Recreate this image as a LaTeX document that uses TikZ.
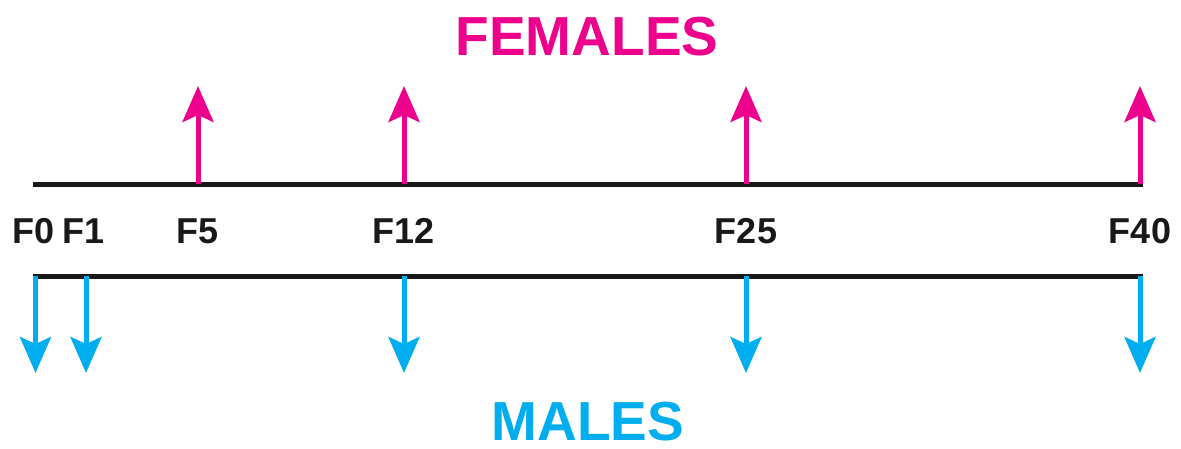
\documentclass[tikz,border=0pt]{standalone}
\usepackage{fontspec}
\setmainfont{Liberation Sans}
\usetikzlibrary{arrows.meta}
\definecolor{fem}{HTML}{EC008C}
\definecolor{mal}{HTML}{00AEEF}
\begin{document}
\begin{tikzpicture}[x=1pt,y=-1pt,
  axisline/.style={line width=5pt,black!90},
  femarrow/.style={line width=5pt,fem,-{Stealth[length=36pt,width=31pt,inset=7pt]}},
  malarrow/.style={line width=5pt,mal,-{Stealth[length=36pt,width=31pt,inset=7pt]}},
  gen/.style={font=\fontsize{36}{36}\selectfont\bfseries,text=black!90,anchor=base,inner sep=0pt},
  title/.style={font=\fontsize{55}{55}\selectfont\bfseries,anchor=base,inner sep=0pt,text depth=0pt}]
\useasboundingbox (0,0) rectangle (1181,448);
% lines
\coordinate (tl) at (33,184);
\coordinate (tr) at (1142.5,184);
\coordinate (bl) at (33,276);
\coordinate (br) at (1142.5,276);
\draw[axisline] (tl) -- (tr);
\draw[axisline] (bl) -- (br);
% labels
\node[gen] (f0) at (34,243) {F0};
\node[gen] (f1) at (84,243) {F1};
\node[gen] (f5) at (198,243) {F5};
\node[gen] (f12) at (404,243) {F12};
\node[gen] (f25) at (746,243) {F25};
\node[gen] (f40) at (1140,243) {F40};
\node[title,text=fem] (females) at (587,55) {FEMALES};
\node[title,text=mal] (males) at (588,440) {MALES};
% female arrows
\foreach \n/\x in {a/198,b/404,c/746,d/1140}{
  \coordinate (fs\n) at (\x,184);
  \coordinate (ft\n) at (\x,86);
  \draw[femarrow] (fs\n) -- (ft\n);
}
% male arrows
\foreach \n/\x in {a/35.5,b/86,c/404,d/746,e/1140}{
  \coordinate (ms\n) at (\x,276);
  \coordinate (mt\n) at (\x,373);
  \draw[malarrow] (ms\n) -- (mt\n);
}
\end{tikzpicture}
\end{document}
